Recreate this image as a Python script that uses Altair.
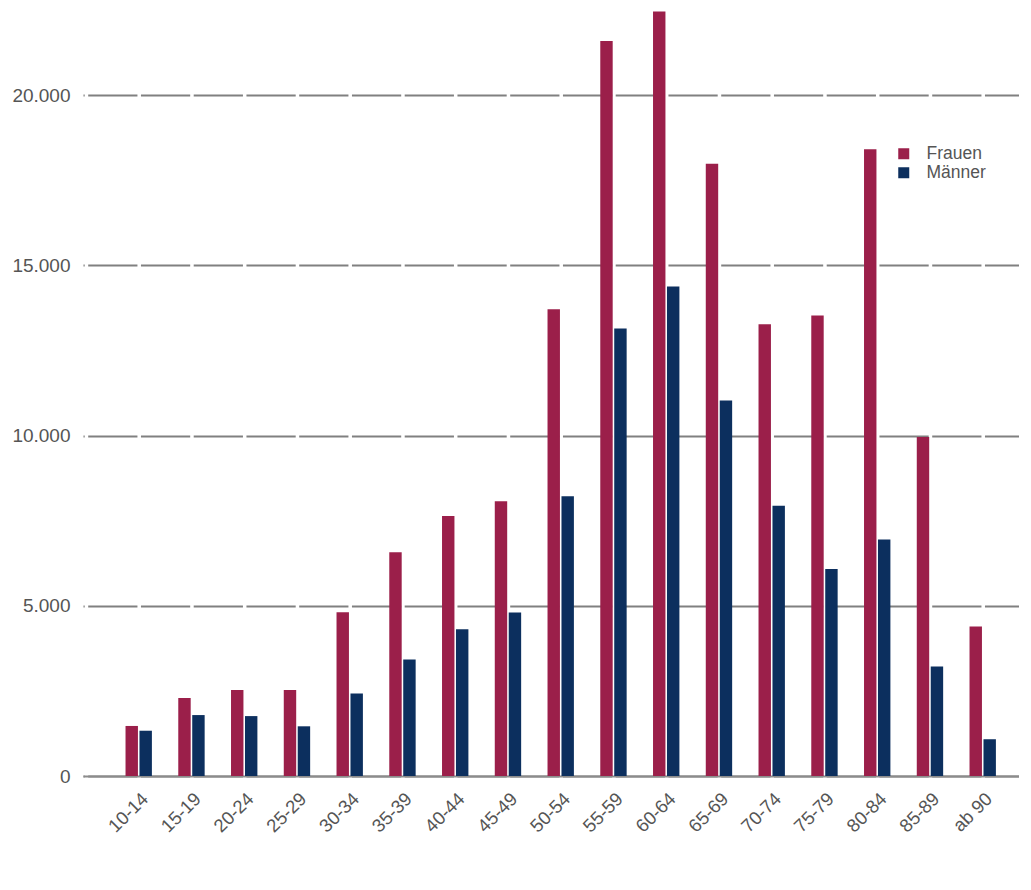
import altair as alt
import pandas as pd

categories = ["10-14", "15-19", "20-24", "25-29", "30-34", "35-39", "40-44", "45-49",
              "50-54", "55-59", "60-64", "65-69", "70-74", "75-79", "80-84", "85-89", "ab 90"]
frauen = [1470, 2290, 2530, 2530, 4810, 6570, 7640, 8070, 13710, 21590, 22460,
          17990, 13270, 13530, 18410, 9960, 4390]
maenner = [1330, 1790, 1760, 1460, 2420, 3420, 4310, 4800, 8220, 13150, 14380,
           11030, 7940, 6080, 6950, 3220, 1080]
series = ["Frauen", "Männer"]
colors = ["#9b1f4a", "#0c2f5e"]
y_ticks = [0, 5000, 10000, 15000, 20000]

rows = []
for i, c in enumerate(categories):
    rows.append({"Alter": c, "Geschlecht": series[0], "Anzahl": frauen[i]})
    rows.append({"Alter": c, "Geschlecht": series[1], "Anzahl": maenner[i]})
df = pd.DataFrame(rows)

FONT = "Liberation Sans"
TXT = "#555555"

chart = alt.Chart(df).mark_bar().encode(
    x=alt.X("Alter:N", sort=categories, title=None,
            scale=alt.Scale(paddingInner=0.5, paddingOuter=0.622, align=0.648),
            axis=alt.Axis(labelAngle=-45, labelFontSize=18.5, labelColor=TXT,
                          labelFont=FONT, ticks=False, labelPadding=13,
                          domainColor="#8c8c8c", domainWidth=2, grid=False)),
    xOffset=alt.XOffset("Geschlecht:N", sort=series,
                        scale=alt.Scale(paddingInner=0.11, paddingOuter=0)),
    y=alt.Y("Anzahl:Q", title=None,
            scale=alt.Scale(domain=[0, 22562], nice=False, zero=True),
            axis=alt.Axis(values=y_ticks, labelFontSize=19, labelColor=TXT,
                          labelFont=FONT, ticks=False, domain=False, labelPadding=13,
                          labelExpr="replace(format(datum.value, ','), ',', '.')",
                          grid=True, gridColor="#808080", gridWidth=2,
                          gridDash=[49.25, 3.5], gridDashOffset=48.05)),
    color=alt.Color("Geschlecht:N", sort=series,
                    scale=alt.Scale(domain=series, range=colors),
                    legend=alt.Legend(title=None, orient="none", legendX=812, legendY=137,
                                      symbolType="square", symbolSize=121,
                                      symbolStrokeWidth=0, labelFontSize=17.5,
                                      labelFont=FONT, labelColor=TXT, rowPadding=0,
                                      labelOffset=14, padding=0)),
).properties(
    width=936, height=768, background="white",
    padding={"left": 3, "top": 0, "right": 0, "bottom": 5},
).configure_view(stroke=None, strokeWidth=0)

chart.save("out.html", embed_options={"renderer": "svg", "actions": False})
